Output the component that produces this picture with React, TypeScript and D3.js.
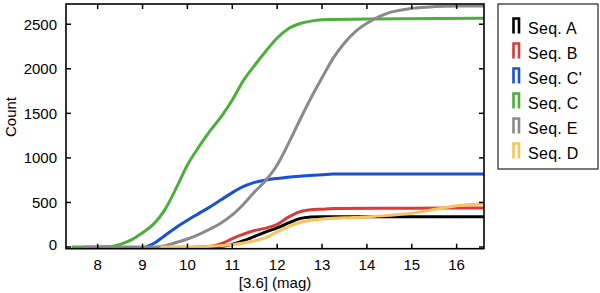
import React from "react";
import * as d3 from "d3";

const W = 600;
const H = 293;

const xTicks = [8, 9, 10, 11, 12, 13, 14, 15, 16];
const yTicks = [0, 500, 1000, 1500, 2000, 2500];

const seqA: [number, number][] = [
  [10.5, 0], [10.7, 5], [10.85, 15], [11, 30], [11.25, 70], [11.5, 120], [11.75, 170],
  [12, 215], [12.25, 270], [12.5, 318], [12.75, 336], [13, 340], [14, 340], [16.61, 340],
];
const seqB: [number, number][] = [
  [10.2, 0], [10.4, 5], [10.6, 15], [10.8, 45], [11, 95], [11.25, 145], [11.5, 185], [11.75, 212],
  [12, 255], [12.25, 335], [12.5, 395], [12.75, 418], [13, 425], [13.25, 432], [15, 436], [16.61, 438],
];
const seqCp: [number, number][] = [
  [9.07, 0], [9.25, 40], [9.5, 130], [9.75, 220], [10, 300], [10.25, 375], [10.5, 450],
  [10.75, 530], [11, 610], [11.25, 680], [11.5, 725], [11.75, 752], [12, 770], [12.5, 795],
  [13, 810], [13.25, 818], [16.61, 820],
];
const seqC: [number, number][] = [
  [7.42, 0], [8.0, 0], [8.3, 5], [8.5, 30], [8.75, 80], [9.0, 160], [9.25, 260], [9.5, 420],
  [9.75, 660], [10.0, 920], [10.25, 1120], [10.5, 1300], [10.75, 1460], [11.0, 1650],
  [11.25, 1870], [11.5, 2040], [11.75, 2200], [12.0, 2345], [12.25, 2450], [12.5, 2505],
  [12.75, 2535], [13, 2550], [14, 2560], [16.61, 2566],
];
const seqE: [number, number][] = [
  [7.68, 0], [9.3, 0], [9.5, 15], [9.75, 50], [10, 90], [10.25, 140], [10.5, 200], [10.75, 270],
  [11, 360], [11.25, 480], [11.5, 620], [11.75, 750], [12, 920], [12.25, 1160], [12.5, 1420],
  [12.75, 1670], [13, 1900], [13.25, 2120], [13.5, 2290], [13.75, 2420], [14, 2510],
  [14.25, 2580], [14.5, 2630], [15, 2678], [15.5, 2698], [16, 2705], [16.61, 2705],
];
const seqD: [number, number][] = [
  [9.4, 0], [10.2, 2], [10.5, 8], [10.75, 15], [11, 25], [11.25, 45], [11.5, 70], [11.75, 105],
  [12, 170], [12.25, 230], [12.5, 275], [12.75, 300], [13, 315], [13.5, 328], [14, 338],
  [14.5, 355], [15, 378], [15.5, 420], [16, 462], [16.61, 485],
];

const seriesNames = ["Seq. A", "Seq. B", "Seq. C'", "Seq. C", "Seq. E", "Seq. D"];
const seriesData = [seqA, seqB, seqCp, seqC, seqE, seqD];
const seriesColors = ["#000000", "#d93a3a", "#1a4fd8", "#4caf3c", "#8a8a8a", "#f8c35a"];

export default function App() {
  const left = 66;
  const right = 484;
  const top = 4;
  const bottom = 248.7;

  const x = d3.scaleLinear().domain([7.294, 16.61]).range([left, right]);
  const y = d3.scaleLinear().domain([-19, 2727]).range([bottom, top]);

  const line = d3
    .line<[number, number]>()
    .x((d) => x(d[0]))
    .y((d) => y(d[1]))
    .curve(d3.curveMonotoneX);

  const font = "'Liberation Sans', Arial, Helvetica, sans-serif";
  const tickLen = 5;

  return (
    <svg
      width={W}
      height={H}
      style={{ position: "absolute", left: 0, top: 0, background: "#fff" }}
      fontFamily={font}
    >
      <defs>
        <clipPath id="plotclip">
          <rect x={left} y={top} width={right - left} height={bottom - top} />
        </clipPath>
      </defs>

      <g clipPath="url(#plotclip)">
        {seriesData.map((d, i) => (
          <path
            key={i}
            d={line(d) || ""}
            fill="none"
            stroke={seriesColors[i]}
            strokeWidth={3}
            strokeLinejoin="round"
          />
        ))}
      </g>

      {/* frame */}
      <rect x={left} y={top} width={right - left} height={bottom - top} fill="none" stroke="#000" strokeWidth={1.6} />

      {/* x ticks */}
      {xTicks.map((t) => (
        <g key={"x" + t}>
          <line x1={x(t)} x2={x(t)} y1={bottom} y2={bottom - tickLen} stroke="#000" strokeWidth={1.5} />
          <line x1={x(t)} x2={x(t)} y1={top} y2={top + tickLen} stroke="#000" strokeWidth={1.5} />
          <text x={x(t)} y={bottom + 21} textAnchor="middle" fontSize={15} fill="#000">
            {t}
          </text>
        </g>
      ))}

      {/* y ticks */}
      {yTicks.map((t) => (
        <g key={"y" + t}>
          <line x1={left} x2={left + tickLen} y1={y(t)} y2={y(t)} stroke="#000" strokeWidth={1.5} />
          <line x1={right} x2={right - tickLen} y1={y(t)} y2={y(t)} stroke="#000" strokeWidth={1.5} />
          <text x={left - 9} y={(t === 0 ? y(t) - 3 : y(t)) + 5.5} textAnchor="end" fontSize={15} fill="#000">
            {t}
          </text>
        </g>
      ))}

      <text x={(left + right) / 2} y={288} textAnchor="middle" fontSize={15} fill="#000">
        [3.6] (mag)
      </text>
      <text
        transform={`translate(16, 117) rotate(-90)`}
        textAnchor="middle"
        fontSize={15}
        fill="#000"
      >
        Count
      </text>

      {/* legend */}
      <rect x={498} y={4} width={100} height={165} fill="#fff" stroke="#222" strokeWidth={1.2} />
      {seriesNames.map((n, i) => {
        const base = 33.5 + i * 25;
        return (
          <g key={n}>
            <path
              d={`M${513.5},${base} V${base - 15} H${519} V${base}`}
              fill="none"
              stroke={seriesColors[i]}
              strokeWidth={2.6}
            />
            <text x={528} y={base} fontSize={16} fill="#000" letterSpacing={0.3}>
              {n}
            </text>
          </g>
        );
      })}
    </svg>
  );
}
